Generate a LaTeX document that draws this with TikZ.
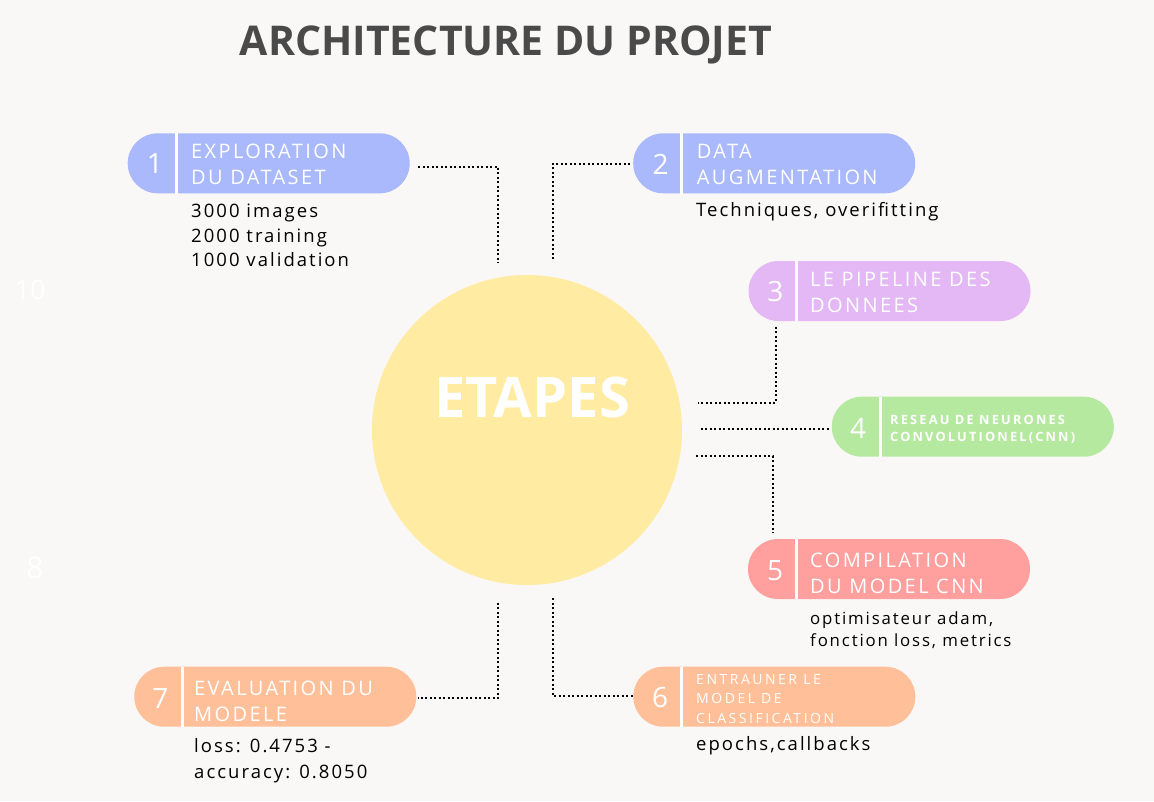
\documentclass[tikz,border=0pt]{standalone}
\usepackage{fontspec}
\setmainfont{Open Sans}
\newfontfamily\pillfont[LetterSpace=12]{Open Sans}
\newfontfamily\pillboldfont[LetterSpace=17]{Open Sans}
\newfontfamily\smallpillfont[LetterSpace=18]{Open Sans}
\newfontfamily\subfont[LetterSpace=11]{Open Sans}
\newfontfamily\numfont{Open Sans}
\definecolor{bgc}{HTML}{FAF8F6}
\definecolor{titlec}{HTML}{4A4A4A}
\definecolor{circc}{HTML}{FFEBA1}
\definecolor{bluec}{HTML}{A9B9FB}
\definecolor{lilac}{HTML}{E4B8F4}
\definecolor{greenc}{HTML}{B6E9A0}
\definecolor{pinkc}{HTML}{FF9F9E}
\definecolor{peachc}{HTML}{FFBF98}
\tikzset{
  pillbox/.style={rounded corners=29.9pt, minimum width=282pt, minimum height=60pt, inner sep=0pt, draw=none},
  sepline/.style={white, line width=3pt},
  numtxt/.style={anchor=base, text=white, inner sep=0pt, font=\numfont\fontsize{28}{28}\selectfont},
  pilltxt/.style={anchor=base west, text=white, inner sep=0pt, font=\pillfont\fontsize{20}{26}\selectfont},
  subtxt/.style={anchor=base west, text=black, inner sep=0pt, font=\subfont\fontsize{18.5}{24.5}\selectfont},
  conn/.style={black, line width=2pt, dash pattern=on 2pt off 2.5pt},
}
\newcommand{\lines}[1]{\begin{tabular}[t]{@{}l@{}}#1\end{tabular}}
\begin{document}
\begin{tikzpicture}[x=1pt,y=-1pt]
\fill[bgc] (0,0) rectangle (1154,801);
\useasboundingbox (0,0) rectangle (1154,801);

% faint numbers
\node[text=white, inner sep=0pt, font=\numfont\fontsize{27}{27}\selectfont] (f10) at (30,290) {10};
\node[text=white, inner sep=0pt, font=\numfont\fontsize{30}{30}\selectfont] (f8) at (35,568) {8};

% title
\node[anchor=base, text=titlec, inner sep=0pt, font=\fontsize{41}{41}\selectfont\bfseries] (title) at (506,55) {ARCHITECTURE DU PROJET};

% circle
\node[circle, fill=circc, minimum size=310pt, inner sep=0pt] (etapes) at (527,430) {};
\node[anchor=base, text=white, inner sep=0pt, font=\fontsize{56}{56}\selectfont\bfseries] (etapestxt) at (532,417) {ETAPES};

% pill 1
\node[pillbox, fill=bluec] (p1) at (268.7,163.3) {};
\draw[sepline] ([xshift=48.5pt]p1.north west) -- ([xshift=48.5pt]p1.south west);
\node[numtxt] (n1) at (155,173.3) {1};
\node[pilltxt] (t1) at (191,158.3) {\lines{EXPLORATION\\DU DATASET}};
\node[subtxt] (s1) at (191,217.7) {\lines{3000 images\\2000 training\\1000 validation}};

% pill 2
\node[pillbox, fill=bluec] (p2) at (774.2,163.3) {};
\draw[sepline] ([xshift=48.5pt]p2.north west) -- ([xshift=48.5pt]p2.south west);
\node[numtxt] (n2) at (660.5,174.3) {2};
\node[pilltxt] (t2) at (696.7,158.3) {\lines{DATA\\AUGMENTATION}};
\node[subtxt] (s2) at (696,216.7) {Techniques, overifitting};

% pill 3
\node[pillbox, fill=lilac] (p3) at (889.5,291) {};
\draw[sepline] ([xshift=48.5pt]p3.north west) -- ([xshift=48.5pt]p3.south west);
\node[numtxt] (n3) at (775.3,301.7) {3};
\node[pilltxt] (t3) at (810,286.7) {\lines{LE PIPELINE DES\\DONNEES}};

% pill 4
\node[pillbox, fill=greenc] (p4) at (972.8,426.7) {};
\draw[sepline] ([xshift=48.5pt]p4.north west) -- ([xshift=48.5pt]p4.south west);
\node[numtxt] (n4) at (858,438.3) {4};
\node[anchor=base west, text=white, inner sep=0pt, font=\pillboldfont\bfseries\fontsize{12.8}{17}\selectfont] (t4) at (890,424) {\lines{RESEAU DE NEURONES\\CONVOLUTIONEL(CNN)}};

% pill 5
\node[pillbox, fill=pinkc] (p5) at (889,569) {};
\draw[sepline] ([xshift=48.5pt]p5.north west) -- ([xshift=48.5pt]p5.south west);
\node[numtxt] (n5) at (775,580) {5};
\node[pilltxt] (t5) at (810,567.3) {\lines{COMPILATION\\DU MODEL CNN}};
\node[subtxt, font=\subfont\fontsize{16.8}{21.7}\selectfont] (s5) at (810,624.3) {\lines{optimisateur adam,\\fonction loss, metrics}};

% pill 6
\node[pillbox, fill=peachc] (p6) at (774.3,696.7) {};
\draw[sepline] ([xshift=48.5pt]p6.north west) -- ([xshift=48.5pt]p6.south west);
\node[numtxt] (n6) at (660,707.3) {6};
\node[anchor=base west, text=white, inner sep=0pt, font=\smallpillfont\fontsize{14}{19.6}\selectfont] (t6) at (696,684) {\lines{ENTRAUNER LE\\MODEL DE\\CLASSIFICATION}};
\node[subtxt] (s6) at (696,750.7) {epochs,callbacks};

% pill 7
\node[pillbox, fill=peachc] (p7) at (275.3,696.7) {};
\draw[sepline] ([xshift=48.5pt]p7.north west) -- ([xshift=48.5pt]p7.south west);
\node[numtxt] (n7) at (160.5,708.3) {7};
\node[pilltxt] (t7) at (194,695) {\lines{EVALUATION DU\\MODELE}};
\node[subtxt, font=\subfont\fontsize{18.5}{25.6}\selectfont] (s7) at (194,752.7) {\lines{loss: 0.4753 -\\accuracy: 0.8050}};

% connector end points
\coordinate (c1a) at (418.3,166.7); \coordinate (c1b) at (498.3,263.3);
\coordinate (c2a) at (552.7,259.3); \coordinate (c2b) at (630,164);
\coordinate (c3a) at (775.7,326.7); \coordinate (c3b) at (698.3,402.7);
\coordinate (c4a) at (700.7,429);   \coordinate (c4b) at (830,429);
\coordinate (c5a) at (696,455.7);   \coordinate (c5b) at (772.7,532.7);
\coordinate (c6a) at (552.7,598.3); \coordinate (c6b) at (632.7,696);
\coordinate (c7a) at (498.3,602.7); \coordinate (c7b) at (418.3,698.3);

\draw[conn] (c1a) -| (c1b);
\draw[conn] (c2a) |- (c2b);
\draw[conn] (c3a) |- (c3b);
\draw[conn] (c4a) -- (c4b);
\draw[conn] (c5a) -| (c5b);
\draw[conn] (c6a) |- (c6b);
\draw[conn] (c7a) |- (c7b);
\end{tikzpicture}
\end{document}
